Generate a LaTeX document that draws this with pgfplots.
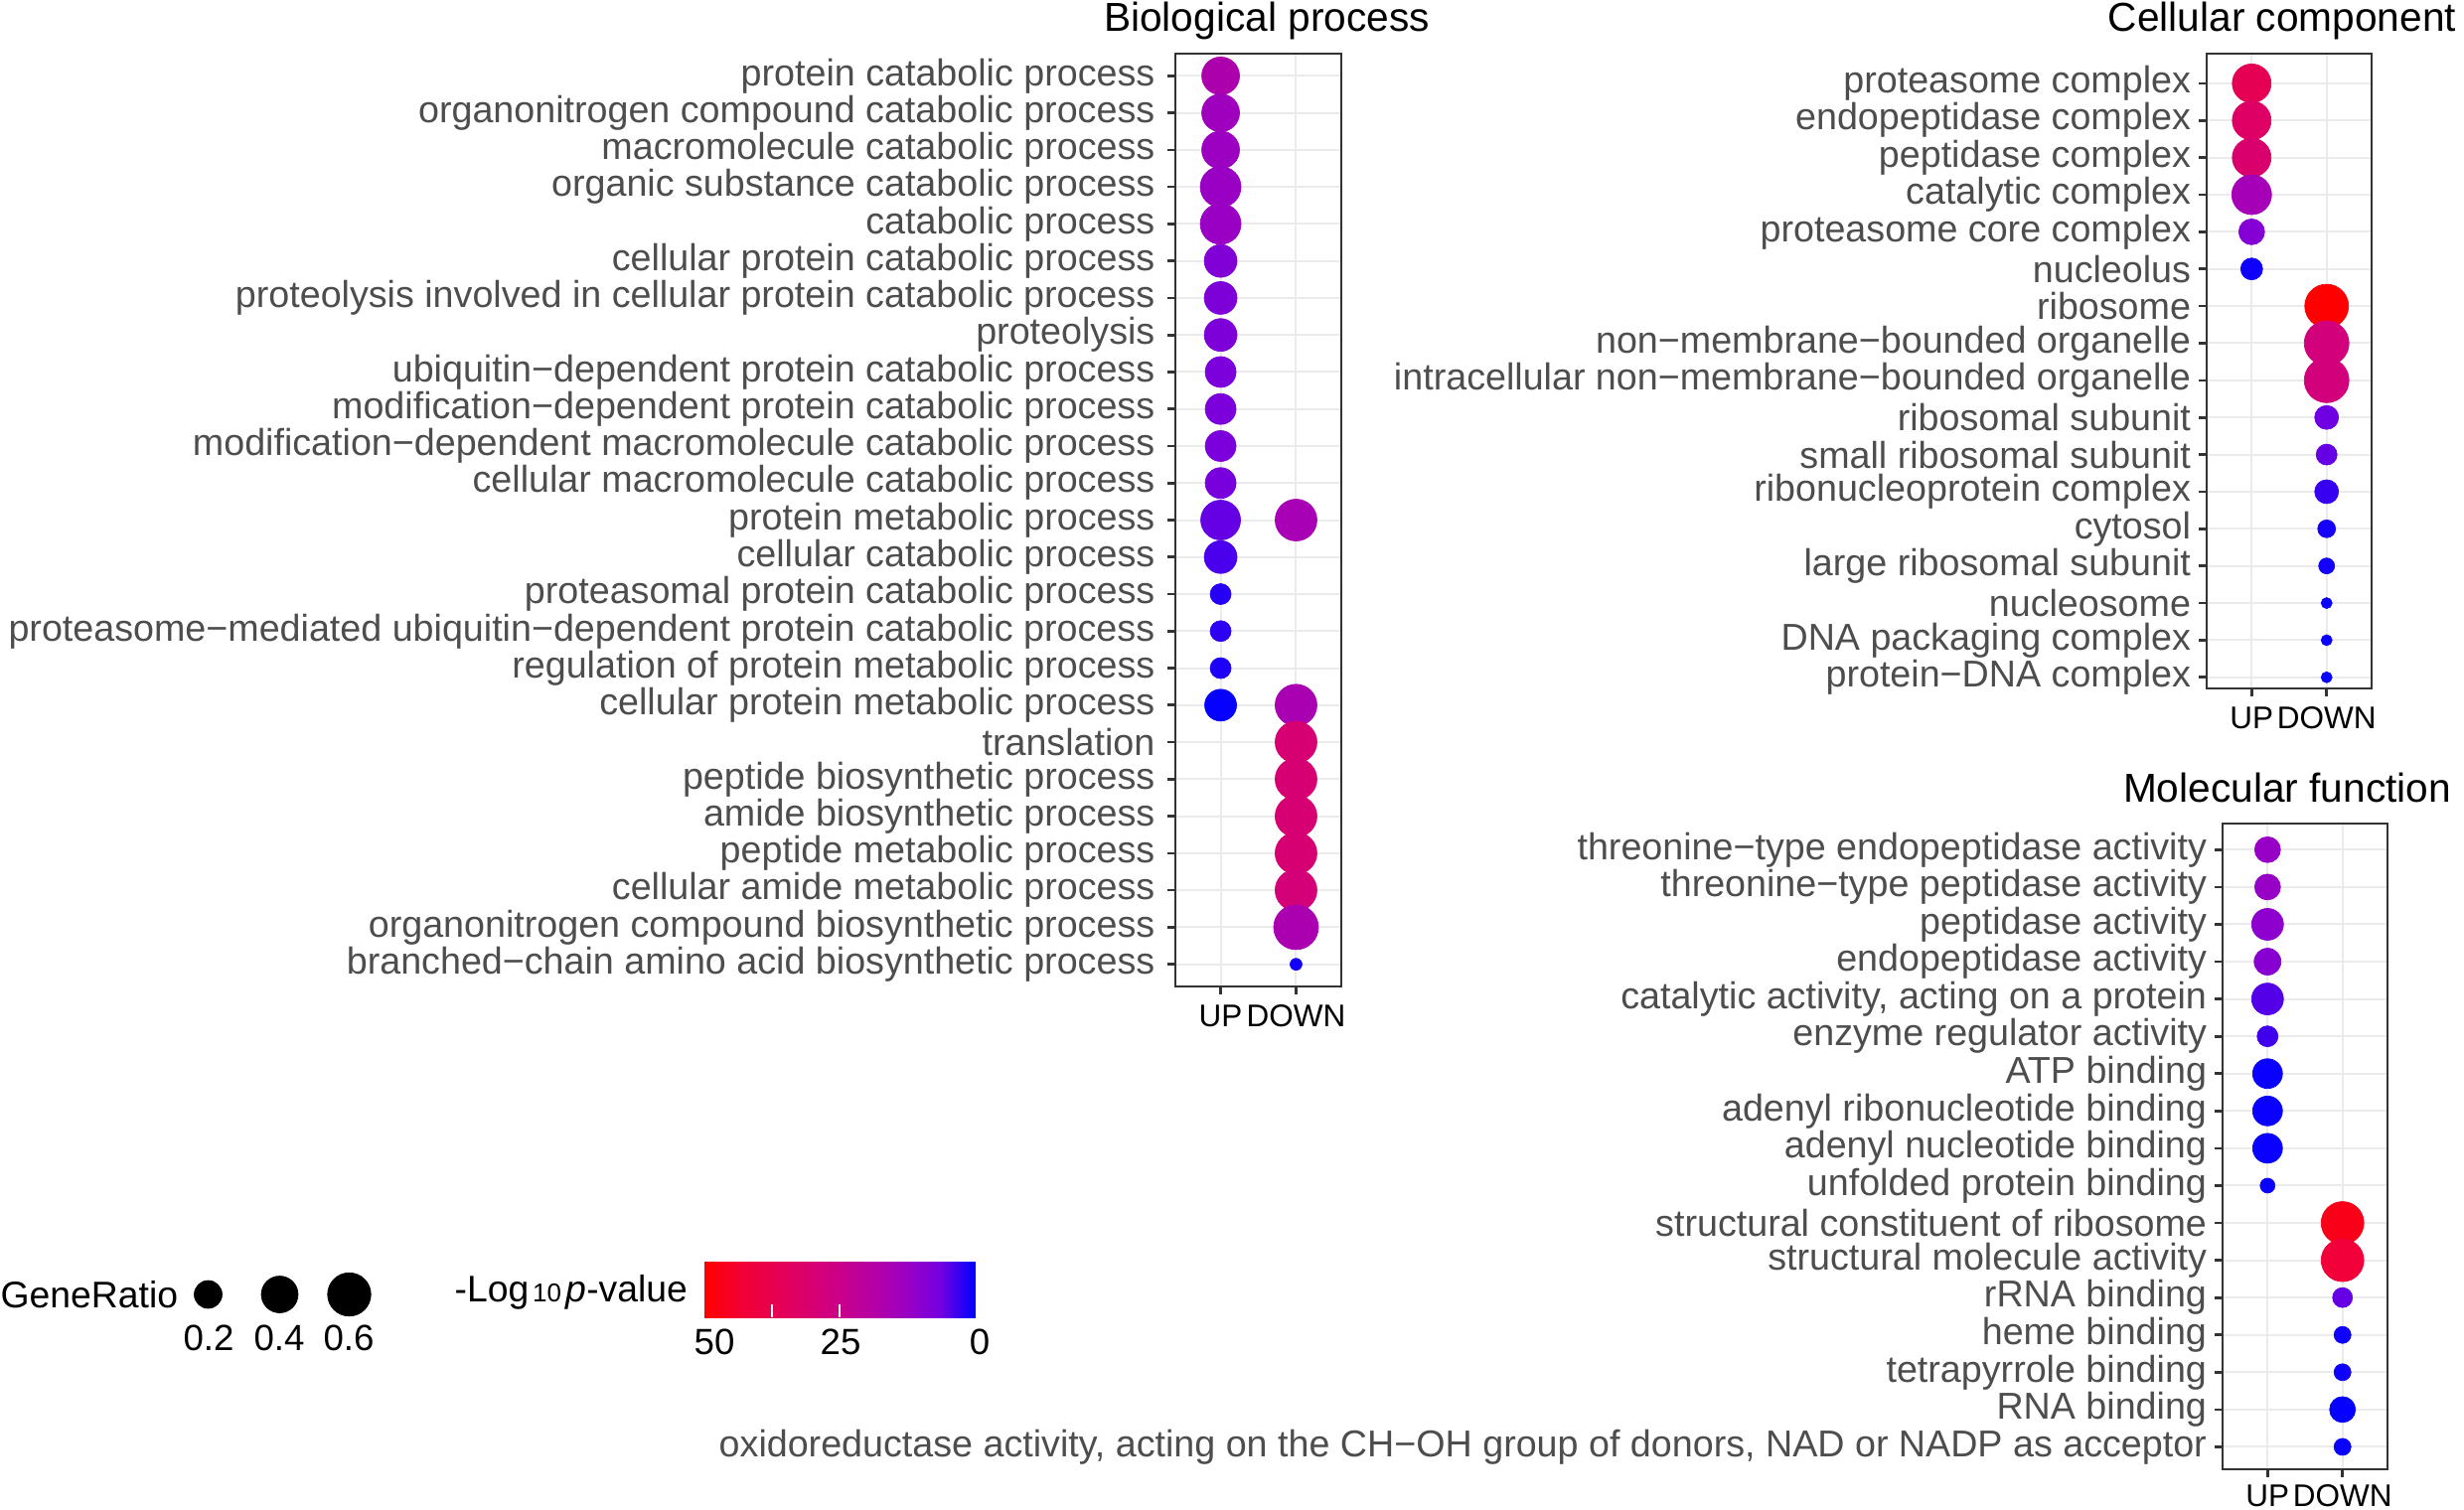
\documentclass[border=0pt]{standalone}
\usepackage{fontspec}
\setmainfont{Liberation Sans}
\usepackage{pgfplots}
\pgfplotsset{compat=1.18}
\usepackage{pgfplotstable}
\definecolor{gridc}{HTML}{EBEBEB}
\definecolor{framec}{HTML}{333333}
\definecolor{labc}{HTML}{4D4D4D}

\pgfplotstableread{
x y ratio logp
1 1 0.428 17
1 2 0.428 13.5
1 3 0.428 13
1 4 0.517 12.5
1 5 0.517 12.5
1 6 0.300 8.5
1 7 0.300 8
1 8 0.300 8
1 9 0.258 7.5
1 10 0.258 7.5
1 11 0.258 7.5
1 12 0.258 7
1 13 0.487 5.5
2 13 0.550 15.5
1 14 0.300 4
1 15 0.102 2
1 16 0.102 2.5
1 17 0.102 1.5
1 18 0.279 0.3
2 18 0.550 16
2 19 0.550 30
2 20 0.550 30
2 21 0.550 30
2 22 0.550 30
2 23 0.550 29
2 24 0.650 16.5
2 25 0.0505 1
}\bpdata

\pgfplotstableread{
x y ratio logp
1 1 0.457 36.5
1 2 0.457 33
1 3 0.457 31
1 4 0.487 15
1 5 0.167 9
1 6 0.113 0.8
2 7 0.615 50
2 8 0.650 28
2 9 0.650 28
2 10 0.138 6
2 11 0.102 5.5
2 12 0.138 3
2 13 0.075 1.2
2 14 0.063 1
2 15 0.050 0.5
2 16 0.050 0.5
2 17 0.050 0.5
}\ccdata

\pgfplotstableread{
x y ratio logp
1 1 0.167 12
1 2 0.167 12
1 3 0.279 10.5
1 4 0.183 9.5
1 5 0.279 4.5
1 6 0.102 3.5
1 7 0.237 0.5
1 8 0.237 0.5
1 9 0.237 0.5
1 10 0.058 0.5
2 11 0.580 47
2 12 0.580 42
2 13 0.092 5.5
2 14 0.069 0.8
2 15 0.069 0.8
2 16 0.167 0.3
2 17 0.069 0.5
}\mfdata

\pgfplotstableread{
x y ratio logp
209.5 1303 0.2 0
281.5 1303 0.4 0
351.5 1303 0.6 0
}\legdata

\pgfplotsset{
  colormap={rb}{rgb255=(0,0,255) rgb255=(115,0,225) rgb255=(154,0,195) rgb255=(181,0,165) rgb255=(202,0,137) rgb255=(218,0,108) rgb255=(232,0,79) rgb255=(244,0,49) rgb255=(255,0,0)},
  panel/.style={
    scale only axis, anchor=north west,
    xmin=0.4, xmax=2.6, y dir=reverse,
    xtick={1,2}, xticklabels={UP,DOWN},
    grid=major, major grid style={draw=gridc, line width=0.6pt},
    axis line style={draw=framec, line width=0.8pt},
    tick style={draw=framec, line width=0.8pt},
    major tick length=2.4pt, tick align=outside, tick pos=left,
    yticklabel style={font=\fontsize{11.3}{13}\selectfont, text=labc, inner sep=0pt, anchor=east},
    xticklabel style={font=\fontsize{9.45}{11}\selectfont, text=black, inner sep=0pt, anchor=base},
    yticklabel shift=3.6pt,
    xticklabel shift=9.6pt,
    colormap name=rb, point meta min=0, point meta max=50,
  },
  bubblebase/.style={only marks, scatter, mark=*, point meta=explicit,
     visualization depends on={\thisrow{ratio}\as\ratio}},
  bubblesize/.style={scatter/@pre marker code/.append style={/tikz/mark size={1.65+5.1*sqrt(max(\ratio-0.05,0)/0.6)}},
     mark options={line width=0.2pt}},
  bubble/.style={bubblebase, scatter/use mapped color={draw=mapped color, fill=mapped color}, bubblesize},
  legbubble/.style={bubblebase, scatter/use mapped color={draw=black, fill=black}, bubblesize},
}

\begin{document}
\begin{tikzpicture}
\useasboundingbox (0,0) rectangle (744pt,455.7pt);

% Biological process
\begin{axis}[panel, at={(354.9pt,439.5pt)}, width=50.1pt, height=281.7pt,
  ymin=0.4, ymax=25.6, ytick={1,...,25},
  yticklabels={protein catabolic process, organonitrogen compound catabolic process, macromolecule catabolic process, organic substance catabolic process, catabolic process, cellular protein catabolic process, proteolysis involved in cellular protein catabolic process, proteolysis, ubiquitin−dependent protein catabolic process, modification−dependent protein catabolic process, modification−dependent macromolecule catabolic process, cellular macromolecule catabolic process, protein metabolic process, cellular catabolic process, proteasomal protein catabolic process, proteasome−mediated ubiquitin−dependent protein catabolic process, regulation of protein metabolic process, cellular protein metabolic process, translation, peptide biosynthetic process, amide biosynthetic process, peptide metabolic process, cellular amide metabolic process, organonitrogen compound biosynthetic process, branched−chain amino acid biosynthetic process}]
\addplot[bubble] table[x=x, y=y, meta=logp]{\bpdata};
\end{axis}

% Cellular component
\begin{axis}[panel, at={(666.3pt,439.5pt)}, width=49.8pt, height=191.7pt,
  yticklabel shift=2.2pt,
  ymin=0.2, ymax=17.3, ytick={1,...,17},
  yticklabels={proteasome complex, endopeptidase complex, peptidase complex, catalytic complex, proteasome core complex, nucleolus, ribosome, non−membrane−bounded organelle, intracellular non−membrane−bounded organelle, ribosomal subunit, small ribosomal subunit, ribonucleoprotein complex, cytosol, large ribosomal subunit, nucleosome, DNA packaging complex, protein−DNA complex}]
\addplot[bubble] table[x=x, y=y, meta=logp]{\ccdata};
\end{axis}

% Molecular function
\begin{axis}[panel, at={(671.1pt,207pt)}, width=49.8pt, height=195pt,
  yticklabel shift=2.2pt, xticklabel shift=8.8pt,
  ymin=0.3, ymax=17.6, ytick={1,...,17},
  yticklabels={threonine−type endopeptidase activity, threonine−type peptidase activity, peptidase activity, endopeptidase activity, {catalytic activity, acting on a protein}, enzyme regulator activity, ATP binding, adenyl ribonucleotide binding, adenyl nucleotide binding, unfolded protein binding, structural constituent of ribosome, structural molecule activity, rRNA binding, heme binding, tetrapyrrole binding, RNA binding, {oxidoreductase activity, acting on the CH−OH group of donors, NAD or NADP as acceptor}}]
\addplot[bubble] table[x=x, y=y, meta=logp]{\mfdata};
\end{axis}

% overlay: titles and legends
\begin{axis}[at={(0pt,0pt)}, anchor=south west, scale only axis, width=744pt, height=455.7pt,
  xmin=0, xmax=2480, ymin=0, ymax=1519, y dir=reverse, hide axis, clip=false,
  colormap name=rb, point meta min=0, point meta max=50]
\addplot[legbubble] table[x=x, y=y, meta=logp]{\legdata};
\addplot[patch, patch type=rectangle, shader=interp, point meta=explicit] coordinates {
(709,1270) [50] (743,1270) [43.75] (743,1326) [43.75] (709,1326) [50]
(743,1270) [43.75] (777,1270) [37.5] (777,1326) [37.5] (743,1326) [43.75]
(777,1270) [37.5] (811,1270) [31.25] (811,1326) [31.25] (777,1326) [37.5]
(811,1270) [31.25] (845,1270) [25] (845,1326) [25] (811,1326) [31.25]
(845,1270) [25] (879,1270) [18.75] (879,1326) [18.75] (845,1326) [25]
(879,1270) [18.75] (913,1270) [12.5] (913,1326) [12.5] (879,1326) [18.75]
(913,1270) [12.5] (947,1270) [6.25] (947,1326) [6.25] (913,1326) [12.5]
(947,1270) [6.25] (981,1270) [0] (981,1326) [0] (947,1326) [6.25]
};
\addplot[white, line width=0.5pt] coordinates {(777,1313) (777,1326)};
\addplot[white, line width=0.5pt] coordinates {(845,1313) (845,1326)};

\node[anchor=base, font=\fontsize{12.2}{14}\selectfont] at (axis cs:1275,31) {Biological process};
\node[anchor=base, font=\fontsize{12.2}{14}\selectfont] at (axis cs:2297,31) {Cellular component};
\node[anchor=base, font=\fontsize{12.2}{14}\selectfont] at (axis cs:2302,807) {Molecular function};

\node[anchor=base west, inner sep=0pt, font=\fontsize{11.2}{13}\selectfont] at (axis cs:0,1316) {GeneRatio};
\node[anchor=base, inner sep=0pt, font=\fontsize{11}{13}\selectfont] at (axis cs:210,1359) {0.2};
\node[anchor=base, inner sep=0pt, font=\fontsize{11}{13}\selectfont] at (axis cs:281,1359) {0.4};
\node[anchor=base, inner sep=0pt, font=\fontsize{11}{13}\selectfont] at (axis cs:351,1359) {0.6};
\node[anchor=base west, inner sep=0pt, font=\fontsize{11.2}{13}\selectfont] at (axis cs:457,1310) {-Log\hspace{0.1em}{\fontsize{7.8}{9}\selectfont 10}\hspace{0.12em}\textit{p}-value};
\node[anchor=base, inner sep=0pt, font=\fontsize{11}{13}\selectfont] at (axis cs:719,1363) {50};
\node[anchor=base, inner sep=0pt, font=\fontsize{11}{13}\selectfont] at (axis cs:846,1363) {25};
\node[anchor=base, inner sep=0pt, font=\fontsize{11}{13}\selectfont] at (axis cs:986,1363) {0};
\end{axis}
\end{tikzpicture}
\end{document}
